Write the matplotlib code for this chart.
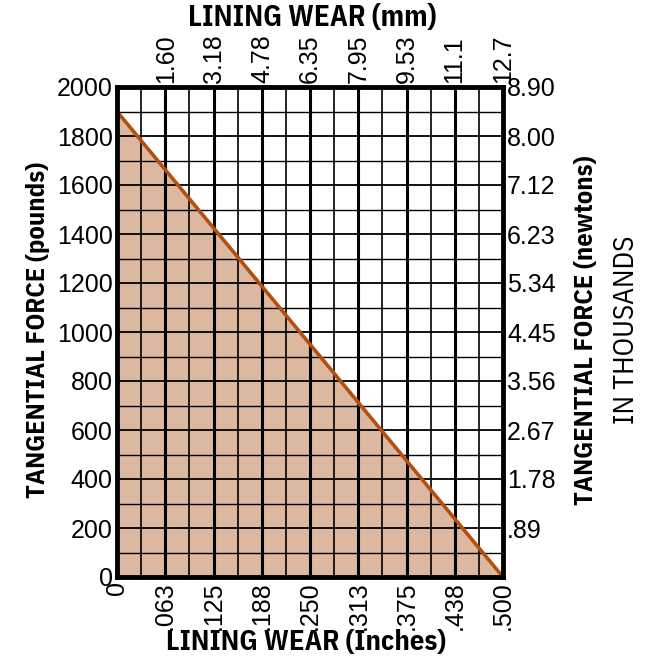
import matplotlib
matplotlib.use('Agg')
import matplotlib.pyplot as plt

# data
wear_in = [0.0, 0.5]
force_lb = [1900, 0]
in_ticks = [0, 0.0625, 0.125, 0.1875, 0.25, 0.3125, 0.375, 0.4375, 0.5]
in_labels = ['0', '.063', '.125', '.188', '.250', '.313', '.375', '.438', '.500']
mm_ticks = [1.60, 3.18, 4.78, 6.35, 7.95, 9.53, 11.1, 12.7]
mm_labels = ['1.60', '3.18', '4.78', '6.35', '7.95', '9.53', '11.1', '12.7']
lb_ticks = [0, 200, 400, 600, 800, 1000, 1200, 1400, 1600, 1800, 2000]
kn_ticks = [0.89, 1.78, 2.67, 3.56, 4.45, 5.34, 6.23, 7.12, 8.00, 8.90]
kn_labels = ['.89', '1.78', '2.67', '3.56', '4.45', '5.34', '6.23', '7.12', '8.00', '8.90']

reg = ['Liberation Sans', 'DejaVu Sans']
cond = ['IBM Plex Sans Condensed', 'Liberation Sans', 'DejaVu Sans']

fig = plt.figure(figsize=(6.54, 6.61), dpi=100)
ax = fig.add_axes([117/654, 1-577/661, (503-117)/654, (577-87)/661])

ax.fill_between(wear_in, force_lb, 0, color='#dcb8a0', zorder=1)

# grid
for i in range(1, 16):
    x = i * 0.5 / 16
    ax.axvline(x, color='black', lw=2.2 if i % 2 == 0 else 1.2, zorder=2)
for j in range(1, 20):
    ax.axhline(j * 100, color='black', lw=1.3 if j % 2 == 0 else 1.0, zorder=2)

ax.plot(wear_in, force_lb, color='#b4500e', lw=2.6, zorder=3)

ax.set_xlim(0, 0.5)
ax.set_ylim(0, 2000)
for s in ax.spines.values():
    s.set_linewidth(3.5)
    s.set_zorder(5)

ax.set_xticks(in_ticks)
ax.set_xticklabels(in_labels, rotation=90, family=reg, fontsize=18)
ax.set_yticks(lb_ticks)
ax.set_yticklabels([str(v) for v in lb_ticks], family=reg, fontsize=18)
ax.tick_params(length=0, pad=3)

top = ax.twiny()
top.set_xlim(0, 12.7)
top.set_xticks(mm_ticks)
top.set_xticklabels(mm_labels, rotation=90, family=reg, fontsize=18)
top.tick_params(length=0, pad=3)
for s in top.spines.values():
    s.set_visible(False)

right = ax.twinx()
right.set_ylim(0, 8.90)
right.set_yticks(kn_ticks)
right.set_yticklabels(kn_labels, family=reg, fontsize=18)
right.tick_params(length=0, pad=3)
for s in right.spines.values():
    s.set_visible(False)

lab = dict(family=cond, fontweight='bold', ha='center', va='center')
fig.text(312/654, 1-18/661, 'LINING WEAR (mm)', fontsize=21, **lab)
fig.text(306/654, 1-642/661, 'LINING WEAR (Inches)', fontsize=20.5, **lab)
fig.text(38/654, 1-330/661, 'TANGENTIAL FORCE (pounds)', rotation=90, fontsize=19, **lab)
fig.text(586/654, 1-330/661, 'TANGENTIAL FORCE (newtons)', rotation=90, fontsize=19, **lab)
fig.text(627/654, 1-330/661, 'IN THOUSANDS', rotation=90, ha='center', va='center',
         family=cond, fontsize=21)

fig.savefig('out.png', dpi=100)
